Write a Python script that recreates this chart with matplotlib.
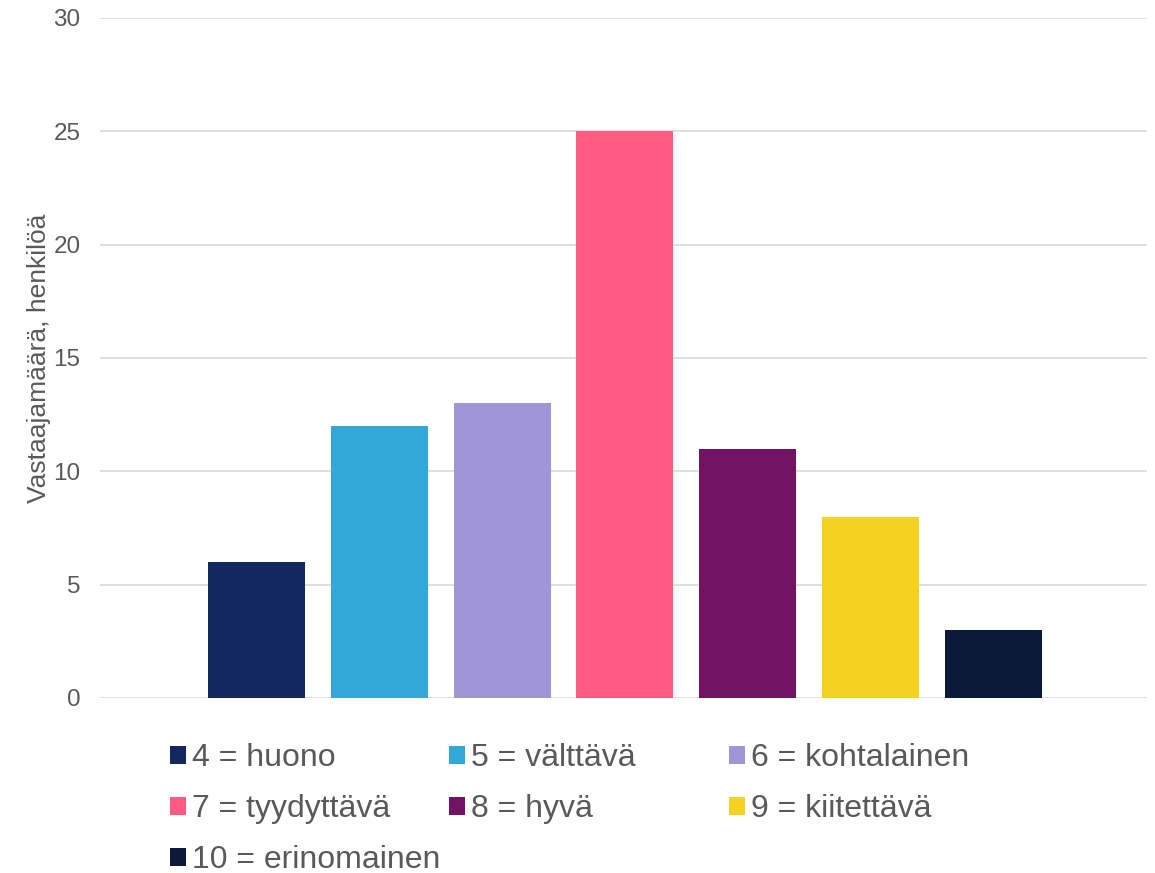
import matplotlib.pyplot as plt

# -------------------------------
# data
# -------------------------------
labels = ['4 = huono', '5 = välttävä', '6 = kohtalainen', '7 = tyydyttävä',
          '8 = hyvä', '9 = kiitettävä', '10 = erinomainen']
counts = [6, 12, 13, 25, 11, 8, 3]
colors = ['#12285E', '#31A8D8', '#A095D7', '#FF5A82', '#721463', '#F3D220', '#0A1A38']
y_ticks = [0, 5, 10, 15, 20, 25, 30]

TEXT = '#595959'
plt.rcParams['font.family'] = ['Liberation Sans', 'DejaVu Sans']

fig = plt.figure(figsize=(11.55, 8.73), dpi=100)
ax = fig.add_axes([100 / 1155, 1 - 698 / 873, 1047 / 1155, 680 / 873])

bars = []
for i, (lab, val, col) in enumerate(zip(labels, counts, colors)):
    b = ax.bar(i, val, width=0.79, color=col, label=lab, zorder=3)
    bars.append(b)

ax.set_xlim(-1.274, 7.25)
ax.set_ylim(0, 30)
ax.set_yticks(y_ticks)
ax.set_xticks([])
ax.grid(axis='y', color='#D9D9D9', linewidth=1.2, zorder=0)
ax.set_axisbelow(True)
for s in ax.spines.values():
    s.set_visible(False)
ax.tick_params(axis='y', length=0, pad=14, labelsize=17.5, labelcolor=TEXT)

ax.set_ylabel('Vastaajamäärä, henkilöä', fontsize=19, color=TEXT)
ax.yaxis.set_label_coords(-0.047, 0.5)

# legend in 3 columns, placed like the original
col_x = [170, 449, 729]
for j in range(3):
    h = bars[j::3]
    leg = fig.legend(h, [b.get_label() for b in h], loc='upper left',
                     bbox_to_anchor=(col_x[j] / 1155, 1 - 743 / 873),
                     frameon=False, fontsize=23, borderpad=0, borderaxespad=0,
                     handlelength=0.5, handleheight=0.5, handletextpad=0.2,
                     labelspacing=0.66)
    for t in leg.get_texts():
        t.set_color(TEXT)

plt.savefig('out.png')
